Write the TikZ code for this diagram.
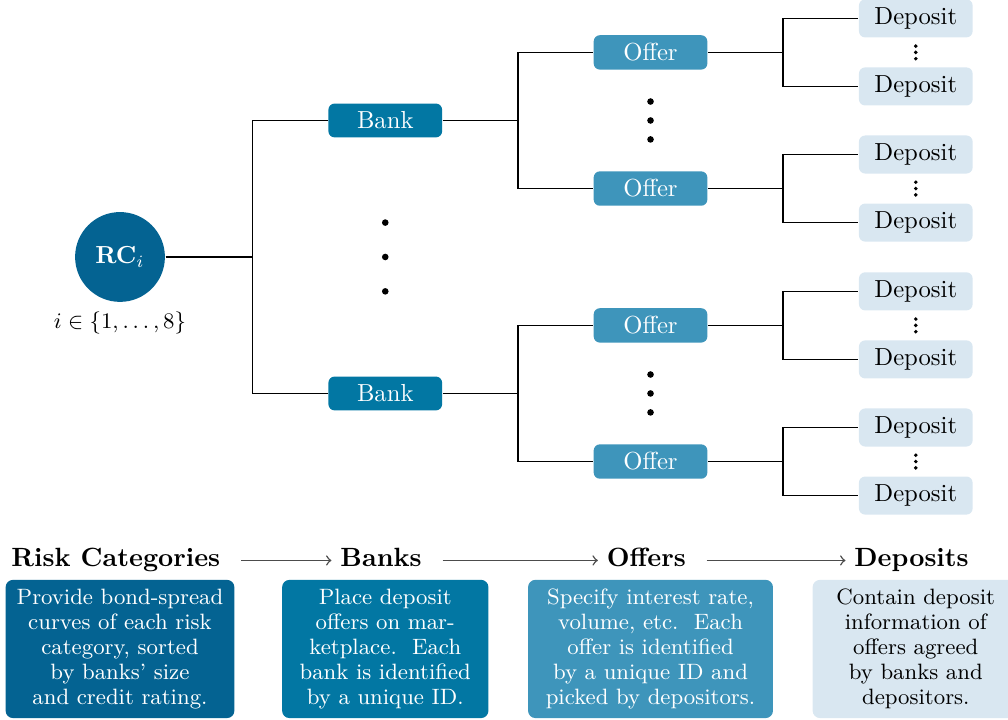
\documentclass[tikz,border=0pt]{standalone}
\usetikzlibrary{positioning,calc}
\definecolor{rcblue}{RGB}{4,99,146}
\definecolor{bankblue}{RGB}{2,119,163}
\definecolor{offerblue}{RGB}{62,149,187}
\definecolor{depblue}{RGB}{217,231,241}
\tikzset{
	treebox/.style={rounded corners=2.5pt, minimum width=1.62cm},
	rcnode/.style={circle, fill=rcblue, text=white, minimum size=1.28cm, inner sep=0pt},
	banknode/.style={treebox, fill=bankblue, text=white},
	offernode/.style={treebox, fill=offerblue, text=white},
	depnode/.style={treebox, fill=depblue},
	descbox/.style={rounded corners=3pt, minimum height=1.97cm, align=center, font=\fontsize{9}{10.1}\selectfont},
	heading/.style={font=\fontsize{10.7}{12}\selectfont\bfseries, text height=1.6ex, text depth=0.5ex, xshift=-0.06cm},
	flow/.style={->, draw=black!70, shorten <=0.17cm}
}
\begin{document}
\begin{tikzpicture}[semithick, grow=right, level distance=3.78cm,
		level 1/.style={sibling distance=3.89cm}, level 2/.style={sibling distance=1.94cm}, level 3/.style={sibling distance=0.97cm},
		edge from parent path={(\tikzparentnode.east) -| ($(\tikzparentnode)!.5!(\tikzchildnode)$) |- (\tikzchildnode.west)}]
	\useasboundingbox (-1.71,-6.598) rectangle (12.654,3.662);
	\node[rcnode] (rc) {$\mathbf{RC}_i$}
	child foreach \x in {1,2} {node[banknode] (b\x) {Bank}
		child foreach \y in {1,2} {node[offernode] (o\x\y) {Offer}
			child foreach \z in {1,2} {node[depnode] (d\x\y\z) {Deposit}}
		}
	};
	\node[below=0pt of rc, font=\small] (rclab) {$i \in \{1,\ldots,8\}$};

	\foreach \s in {-1,0,1} \fill ($(b1)!.5!(b2)$) ++(0,\s*0.49) circle (0.047);
	\foreach \x in {1,2} {
		\foreach \s in {-1,0,1} \fill ($(o\x1)!.5!(o\x2)$) ++(0,\s*0.27) circle (0.047);
		\foreach \y in {1,2} {
			\foreach \s in {-1,0,1} \fill ($(d\x\y1)!.5!(d\x\y2)$) ++(0,\s*0.09) circle (0.028);
		}
	}

	\node[descbox, fill=rcblue, text=white, minimum width=3.26cm] (rcdesc) at (0,-5.586) {Provide bond-spread\\curves of each risk\\category, sorted\\by banks' size\\and credit rating.};
	\node[descbox, fill=bankblue, text=white, minimum width=2.94cm] (bankdesc) at (3.78,-5.586) {Place deposit\\offers on mar-\\ketplace.\ \ Each\\bank is identified\\by a unique ID.};
	\node[descbox, fill=offerblue, text=white, minimum width=3.49cm] (offerdesc) at (7.56,-5.586) {Specify interest rate,\\volume, etc.\ \ Each\\offer is identified\\by a unique ID and\\picked by depositors.};
	\node[descbox, fill=depblue, minimum width=2.94cm] (depdesc) at (11.34,-5.586) {Contain deposit\\information of\\offers agreed\\by banks and\\depositors.};

	\node[heading, above=-0.6pt of rcdesc] (rchead) {Risk Categories};
	\node[heading, above=-0.6pt of bankdesc] (bankhead) {Banks};
	\node[heading, above=-0.6pt of offerdesc] (offerhead) {Offers};
	\node[heading, above=-0.6pt of depdesc] (dephead) {Deposits};
	\draw[flow] (rchead) -- (bankhead);
	\draw[flow] (bankhead) -- (offerhead);
	\draw[flow] (offerhead) -- (dephead);
\end{tikzpicture}
\end{document}
